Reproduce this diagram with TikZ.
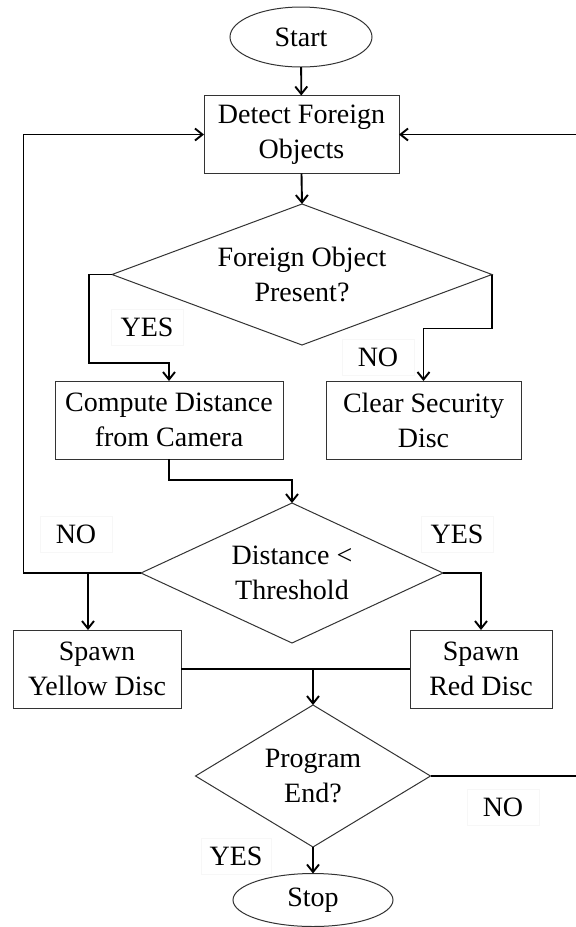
\documentclass[tikz,border=0pt]{standalone}
\usepackage{fontspec}
\setmainfont{Liberation Serif}
\usetikzlibrary{shapes.geometric,arrows.meta}

\tikzset{
  txt/.style={font=\fontsize{28}{35}\selectfont, align=center, inner sep=0pt, outer sep=0pt},
  term/.style={txt, ellipse, draw=black!80, line width=1pt},
  proc/.style={txt, rectangle, draw=black!80, line width=1pt},
  dec/.style={txt, diamond, draw=black!80, line width=1pt, shape aspect=2.5},
  conn/.style={line width=1.9pt, -{Straight Barb[length=7.5pt,width=12pt]}},
  link/.style={line width=1.9pt},
  lbl/.style={txt, fill=white, draw=black!3, line width=0.5pt, minimum width=72pt, minimum height=36pt}
}

\begin{document}
\begin{tikzpicture}[x=1pt, y=-1pt]
  \clip (0,0) rectangle (576,927);
  \fill[white] (0,0) rectangle (576,927);

  % nodes
  \node[term, minimum width=142pt, minimum height=60pt] (start) at (301,37) {Start};
  \node[proc, minimum width=195pt, minimum height=78pt] (detect) at (301.5,134.5) {Detect Foreign\\Objects};
  \node[dec, minimum width=380pt, minimum height=141pt] (fop) at (302,274.5) {Foreign Object\\Present?};
  \node[proc, minimum width=228pt, minimum height=78pt] (comp) at (169,420) {Compute Distance\\from Camera};
  \node[proc, minimum width=195pt, minimum height=78pt] (clear) at (423.5,420) {Clear Security\\Disc};
  \node[dec, minimum width=302pt, minimum height=140pt] (dist) at (292,573) {Distance <\\Threshold};
  \node[proc, minimum width=168pt, minimum height=78pt] (yellow) at (97,669) {Spawn\\Yellow Disc};
  \node[proc, minimum width=142pt, minimum height=78pt] (red) at (481,669) {Spawn\\Red Disc};
  \node[dec, minimum width=235pt, minimum height=142pt] (prog) at (313,776) {Program\\End?};
  \node[term, minimum width=160pt, minimum height=53pt] (stop) at (313,900) {Stop};

  % branch labels
  \node[lbl] (yes1) at (147,327) {YES};
  \node[lbl] (no1) at (378,357) {NO};
  \node[lbl] (no2) at (76,534) {NO};
  \node[lbl] (yes2) at (457,534) {YES};
  \node[lbl] (no3) at (503,807) {NO};
  \node[lbl, minimum width=70pt] (yes3) at (236,856) {YES};

  % connectors
  \draw[conn] (start) -- (detect);
  \draw[conn] (detect.south) -- (fop.north);
  \draw[conn] (fop.west) -- ++(-23,0) |- ([yshift=18pt]comp.north) -- (comp.north);
  \draw[conn] (fop.east) -- ++(0,54) -| (clear.north);
  \draw[conn] (comp.south) -- ++(0,21) -| (dist.north);
  \draw[conn] (dist.west) -- ++(-117.5,0) |- (detect.west);
  \draw[conn] ([xshift=-9pt]yellow.north |- dist.west) -- ([xshift=-9pt]yellow.north);
  \draw[conn] (dist.east) -| (red.north);
  \draw[link] (yellow.east) -- (red.west);
  \draw[conn] (yellow.east -| prog.north) -- (prog.north);
  \draw[conn] (prog.east) -- ++(170,0) |- (detect.east);
  \draw[conn] (prog.south) -- (stop.north);
\end{tikzpicture}
\end{document}
